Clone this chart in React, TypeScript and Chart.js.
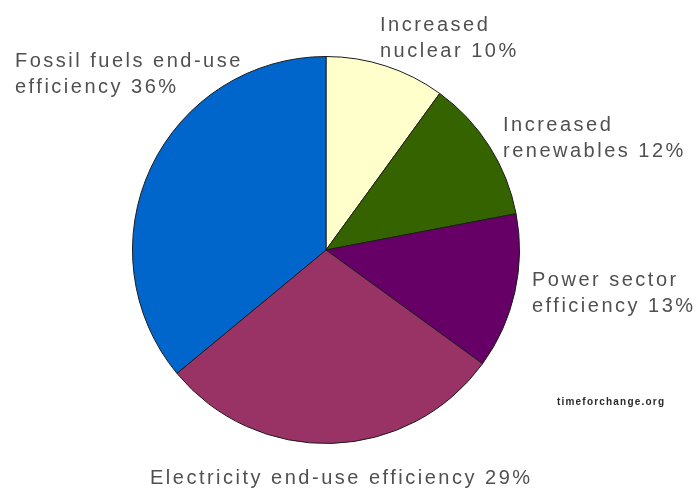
import { useEffect, useRef } from "react";
import { Chart, registerables } from "chart.js";

Chart.register(...registerables);

// Share of projected CO2 reductions by measure (clockwise from 12 o'clock)
const categories: string[][] = [
  ["Increased", "nuclear"],
  ["Increased", "renewables"],
  ["Power sector", "efficiency"],
  ["Electricity end-use efficiency"],
  ["Fossil fuels end-use", "efficiency"],
];
const shares = [10, 12, 13, 29, 36];
const sliceColors = ["#FFFFCC", "#346300", "#660066", "#993366", "#0066CC"];
const sourceNote = "timeforchange.org";

// Label anchors: left x, baseline of first line
const labelAnchors: [number, number][] = [
  [380, 31],
  [503, 131],
  [532, 286],
  [150, 484],
  [15, 67],
];

const labelPlugin = {
  id: "sliceLabels",
  afterDraw(chart: Chart) {
    const ctx = chart.ctx;
    ctx.save();
    ctx.fillStyle = "#505050";
    ctx.font = "20px 'Liberation Sans', Arial, sans-serif";
    (ctx as any).letterSpacing = "2.5px";
    ctx.textAlign = "left";
    ctx.textBaseline = "alphabetic";
    categories.forEach((lines, i) => {
      const [x, y] = labelAnchors[i];
      lines.forEach((line, j) => {
        const text = j === lines.length - 1 ? `${line} ${shares[i]}%` : line;
        ctx.fillText(text, x, y + j * 26);
      });
    });
    ctx.fillStyle = "#2a2a2a";
    ctx.font = "bold 10px 'Liberation Sans', Arial, sans-serif";
    (ctx as any).letterSpacing = "1.2px";
    ctx.filter = "blur(0.5px)";
    ctx.fillText(sourceNote, 557, 405);
    ctx.restore();
  },
};

export default function App() {
  const canvasRef = useRef<HTMLCanvasElement>(null);

  useEffect(() => {
    document.body.style.margin = "0";
    document.body.style.background = "#ffffff";
    const canvas = canvasRef.current;
    if (!canvas) return;
    const chart = new Chart(canvas, {
      type: "pie",
      data: {
        labels: categories.map((l) => l.join(" ")),
        datasets: [
          {
            data: shares,
            backgroundColor: sliceColors,
            borderColor: "#1c1c1c",
            borderWidth: 1,
          },
        ],
      },
      options: {
        responsive: false,
        animation: false,
        devicePixelRatio: 1,
        layout: { padding: { left: 132, right: 178, top: 56, bottom: 49 } },
        plugins: {
          legend: { display: false },
          tooltip: { enabled: false },
        },
      },
      plugins: [labelPlugin],
    });
    return () => chart.destroy();
  }, []);

  return (
    <div style={{ width: 698, height: 493, background: "#fff" }}>
      <canvas ref={canvasRef} width={698} height={493} style={{ display: "block" }} />
    </div>
  );
}
